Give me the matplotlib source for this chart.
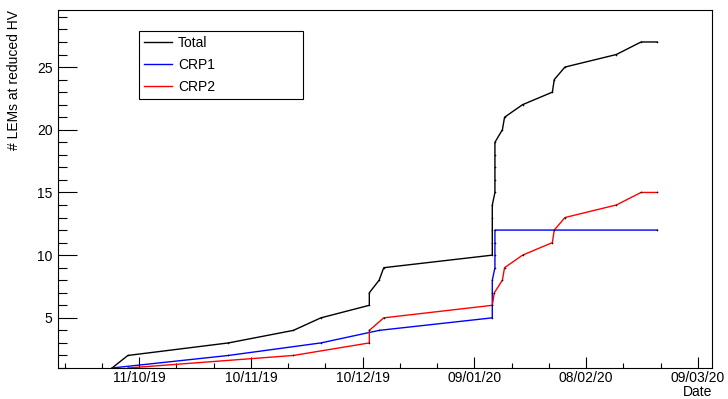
import matplotlib
matplotlib.use("Agg")
import matplotlib.pyplot as plt
import matplotlib.dates as mdates
from matplotlib.ticker import FixedLocator, MultipleLocator
import pandas as pd
import numpy as np

plt.rcParams['font.family'] = ['Liberation Sans', 'DejaVu Sans']

# ---------------- data ----------------
total_dates = ["2019-10-03 18:00", "2019-10-08 00:00", "2019-11-04 00:00", "2019-11-21 10:00",
               "2019-11-28 19:00", "2019-12-11 19:00", "2019-12-11 19:00", "2019-12-14 10:00",
               "2019-12-15 16:00",
               "2020-01-13 19:00", "2020-01-13 19:00", "2020-01-13 19:00", "2020-01-13 19:00",
               "2020-01-13 19:00",
               "2020-01-14 12:00", "2020-01-14 12:00", "2020-01-14 12:00", "2020-01-14 12:00",
               "2020-01-14 12:00",
               "2020-01-16 12:00", "2020-01-17 02:00", "2020-01-21 22:00", "2020-01-29 22:00",
               "2020-01-30 10:00", "2020-02-02 07:00", "2020-02-16 02:00", "2020-02-22 17:00",
               "2020-02-27 02:00"]
total_vals = [1, 2, 3, 4, 5, 6, 7, 8, 9, 10, 11, 12, 13, 14, 15, 16, 17, 18, 19,
              20, 21, 22, 23, 24, 25, 26, 27, 27]

crp1_dates = ["2019-10-03 18:00", "2019-11-04 00:00", "2019-11-28 19:00", "2019-12-14 10:00",
              "2020-01-13 19:00", "2020-01-13 19:00", "2020-01-13 19:00", "2020-01-13 19:00",
              "2020-01-14 12:00", "2020-01-14 12:00", "2020-01-14 12:00", "2020-01-14 12:00",
              "2020-02-27 02:00"]
crp1_vals = [1, 2, 3, 4, 5, 6, 7, 8, 9, 10, 11, 12, 12]

crp2_dates = ["2019-10-08 00:00", "2019-11-21 10:00", "2019-12-11 19:00", "2019-12-11 19:00",
              "2019-12-15 16:00", "2020-01-13 19:00", "2020-01-14 08:00", "2020-01-16 12:00",
              "2020-01-17 02:00", "2020-01-21 22:00", "2020-01-29 22:00", "2020-01-30 10:00",
              "2020-02-02 07:00", "2020-02-16 02:00", "2020-02-22 17:00", "2020-02-27 02:00"]
crp2_vals = [1, 2, 3, 4, 5, 6, 7, 8, 9, 10, 11, 12, 13, 14, 15, 15]

series_names = ["Total", "CRP1", "CRP2"]
series_colors = ["black", "blue", "red"]

x_tick_labels = ["11/10/19", "10/11/19", "10/12/19", "09/01/20", "08/02/20", "09/03/20"]
x_range = ["2019-09-19 06:00", "2020-03-12 18:00"]
y_range = [1.0, 29.55]

y_label = "# LEMs at reduced HV"
x_label = "Date"

# ---------------- figure ----------------
fig = plt.figure(figsize=(7.28, 3.99), dpi=100)
ax = fig.add_axes([58/728, 1-368/399, (712-58)/728, (368-10)/399])

for name, col, d, v in zip(series_names, series_colors,
                           [total_dates, crp1_dates, crp2_dates],
                           [total_vals, crp1_vals, crp2_vals]):
    ax.plot(pd.to_datetime(d), v, color=col, lw=1.0, label=name,
            marker='o', ms=0.9, mfc='black', mec='black', mew=0.2)

ax.set_xlim(pd.to_datetime(x_range[0]), pd.to_datetime(x_range[1]))
ax.set_ylim(*y_range)

# x ticks (time axis)
maj = mdates.date2num(pd.to_datetime(x_tick_labels, format="%d/%m/%y"))
ax.xaxis.set_major_locator(FixedLocator(maj))
ax.set_xticklabels(x_tick_labels)
step = (maj[1] - maj[0]) / 3.0
minors = np.arange(maj[0] - 3 * step, maj[-1] + 3 * step, step)
ax.xaxis.set_minor_locator(FixedLocator(minors))

ax.yaxis.set_major_locator(MultipleLocator(5))
ax.yaxis.set_minor_locator(MultipleLocator(1))

ax.tick_params(axis='y', which='major', direction='in', length=13.7, width=0.8,
               labelsize=10, pad=4)
ax.tick_params(axis='y', which='minor', direction='in', length=6.8, width=0.8)
ax.tick_params(axis='x', which='major', direction='in', length=7.7, width=0.8,
               labelsize=10, pad=2.5)
ax.tick_params(axis='x', which='minor', direction='in', length=3.9, width=0.8)

for s in ax.spines.values():
    s.set_linewidth(0.8)

ax.set_ylabel(y_label, fontsize=10, loc='top')
ax.yaxis.set_label_coords(-0.057, 1.0)
ax.set_xlabel(x_label, fontsize=10, loc='right')
ax.xaxis.set_label_coords(1.0, -0.048)

leg = ax.legend(loc='upper left', bbox_to_anchor=(0.124, 0.751, 0.251, 0.19),
                mode='expand', borderaxespad=0, fancybox=False, framealpha=1,
                edgecolor='black', fontsize=10, handlelength=2.0, handletextpad=0.45,
                labelspacing=0.58, borderpad=0.35)
leg.get_frame().set_linewidth(0.8)
for h in leg.legend_handles:
    h.set_marker('')

fig.savefig("out.png", dpi=100)
